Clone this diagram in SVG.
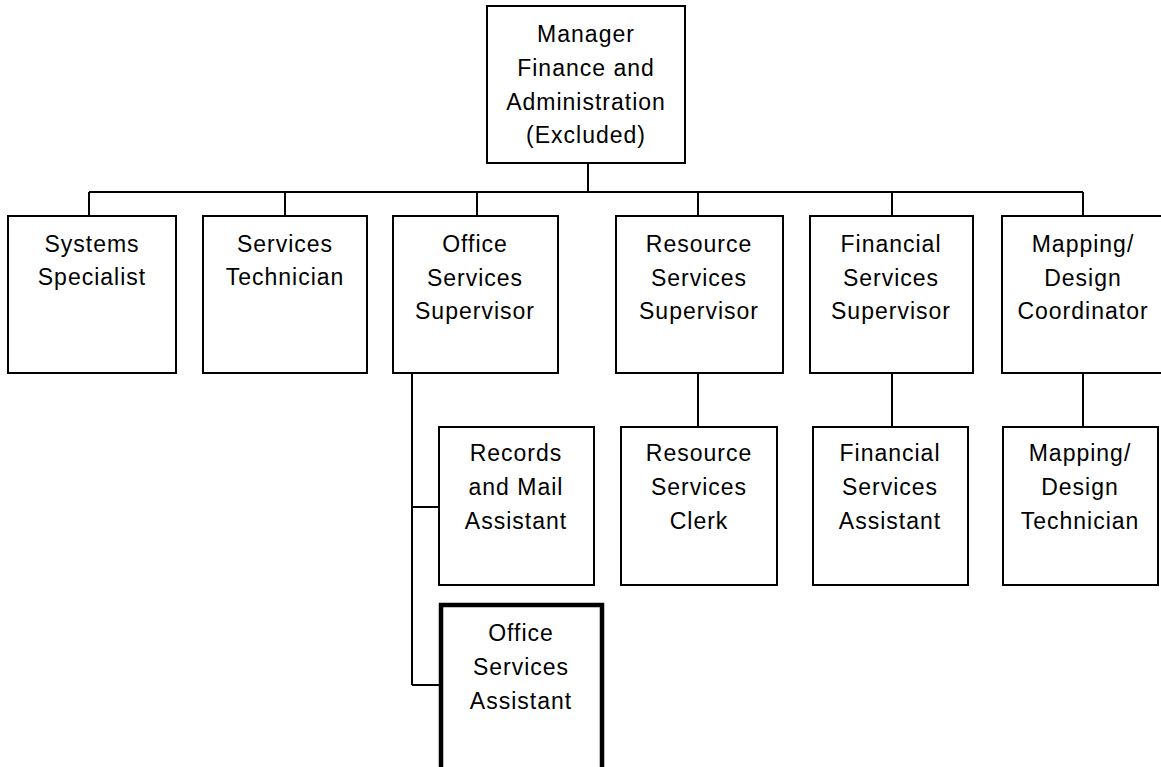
<svg xmlns="http://www.w3.org/2000/svg" width="1161" height="767" viewBox="0 0 1161 767">
<style>
.box{fill:#fff;stroke:#000;stroke-width:2}
.thick{fill:#fff;stroke:#000;stroke-width:4.5}
.ln{fill:none;stroke:#000;stroke-width:2}
text{font-family:"Liberation Sans",Arial,sans-serif;font-size:23px;letter-spacing:1px;text-anchor:middle;fill:#000}
</style>
<rect width="1161" height="767" fill="#fff"/>
<g id="connectors">
<path class="ln" d="M588 163V192M89 192H1083M89 192V216M285 192V216M477 192V216M698 192V216M892 192V216M1083 192V216"/>
<path class="ln" d="M412 374V685M412 507H439M412 685H439"/>
<path class="ln" d="M698 374V427M892 374V427M1083 374V427"/>
</g>
<g id="manager">
<rect class="box" x="487" y="6" width="198" height="157"/>
<text x="586" y="42">Manager</text>
<text x="586" y="76">Finance and</text>
<text x="586" y="110">Administration</text>
<text x="586" y="143">(Excluded)</text>
</g>
<g id="systems-specialist">
<rect class="box" x="8" y="216" width="168" height="157"/>
<text x="92" y="252">Systems</text>
<text x="92" y="285">Specialist</text>
</g>
<g id="services-technician">
<rect class="box" x="203" y="216" width="164" height="157"/>
<text x="285" y="252">Services</text>
<text x="285" y="285">Technician</text>
</g>
<g id="office-services-supervisor">
<rect class="box" x="393" y="216" width="165" height="157"/>
<text x="475" y="252">Office</text>
<text x="475" y="286">Services</text>
<text x="475" y="319">Supervisor</text>
</g>
<g id="resource-services-supervisor">
<rect class="box" x="616" y="216" width="167" height="157"/>
<text x="699" y="252">Resource</text>
<text x="699" y="286">Services</text>
<text x="699" y="319">Supervisor</text>
</g>
<g id="financial-services-supervisor">
<rect class="box" x="810" y="216" width="163" height="157"/>
<text x="891" y="252">Financial</text>
<text x="891" y="286">Services</text>
<text x="891" y="319">Supervisor</text>
</g>
<g id="mapping-design-coordinator">
<rect class="box" x="1002" y="216" width="165" height="157"/>
<text x="1083" y="252">Mapping/</text>
<text x="1083" y="286">Design</text>
<text x="1083" y="319">Coordinator</text>
</g>
<g id="records-mail-assistant">
<rect class="box" x="439" y="427" width="155" height="158"/>
<text x="516" y="461">Records</text>
<text x="516" y="495">and Mail</text>
<text x="516" y="529">Assistant</text>
</g>
<g id="resource-services-clerk">
<rect class="box" x="621" y="427" width="156" height="158"/>
<text x="699" y="461">Resource</text>
<text x="699" y="495">Services</text>
<text x="699" y="529">Clerk</text>
</g>
<g id="financial-services-assistant">
<rect class="box" x="813" y="427" width="155" height="158"/>
<text x="890" y="461">Financial</text>
<text x="890" y="495">Services</text>
<text x="890" y="529">Assistant</text>
</g>
<g id="mapping-design-technician">
<rect class="box" x="1003" y="427" width="155" height="158"/>
<text x="1080" y="461">Mapping/</text>
<text x="1080" y="495">Design</text>
<text x="1080" y="529">Technician</text>
</g>
<g id="office-services-assistant">
<rect class="thick" x="441" y="605" width="161" height="170"/>
<text x="521" y="641">Office</text>
<text x="521" y="675">Services</text>
<text x="521" y="709">Assistant</text>
</g>
</svg>
